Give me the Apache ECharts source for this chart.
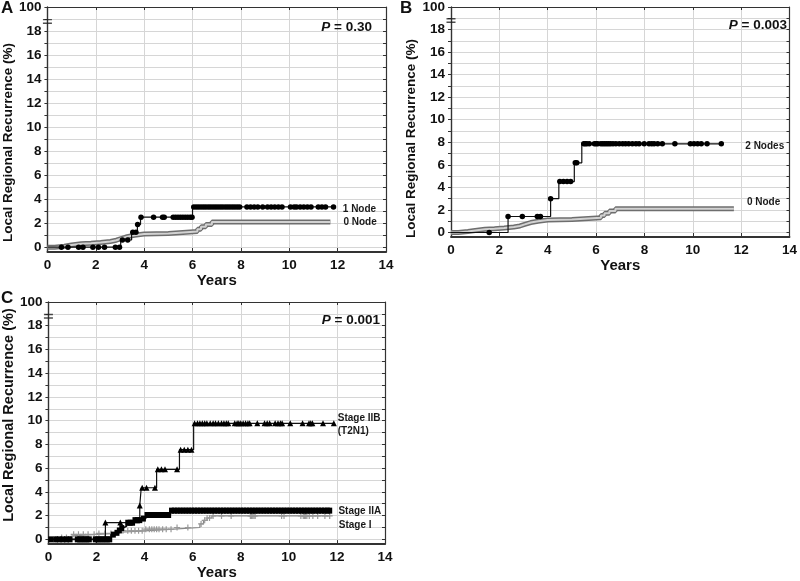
<!DOCTYPE html>
<html>
<head>
<meta charset="utf-8">
<script src="https://cdn.jsdelivr.net/npm/echarts@6/dist/echarts.min.js"></script>
<style>html,body{margin:0;padding:0;background:#fff}#c{width:800px;height:581px}</style>
</head>
<body>
<div id="c"></div>
<script>
// ---------- data ----------
const yTickValues = [0, 2, 4, 6, 8, 10, 12, 14, 16, 18, 20];
const yTickText = ['0', '2', '4', '6', '8', '10', '12', '14', '16', '18', '100'];
const yMinorValues = [0,1,2,3,4,5,6,7,8,9,10,11,12,13,14,15,16,17,18,19,20];
const pValues = ['0.30', '0.003', '0.001'];
const panelLetters = ['A', 'B', 'C'];

// Panel A
const aNode1Steps = [[0,0],[3.03,0.6],[3.48,1.25],[3.72,1.9],[3.85,2.5],[6.0,3.35],[11.8,3.35]];
const aNode1Censor = [0.58,0.85,1.29,1.47,1.88,2.11,2.36,2.81,2.98,3.1,3.32,3.53,3.66,3.73,3.87,4.39,4.76,4.83,5.2,5.3,5.4,5.5,5.6,5.7,5.8,5.9,5.98,
  6.05,6.15,6.25,6.35,6.45,6.55,6.65,6.75,6.85,6.95,7.05,7.15,7.25,7.35,7.45,7.55,7.65,7.75,7.85,7.95,8.25,8.4,8.55,8.7,8.9,9.1,9.25,9.4,9.55,9.7,10.05,10.2,10.3,10.45,10.6,10.75,10.9,11.2,11.35,11.5,11.83];
const node0Steps = [[0,0],[0.3,0.08],[0.7,0.18],[1.0,0.28],[1.4,0.33],[1.8,0.4],[2.2,0.48],[2.6,0.58],[2.85,0.72],[3.05,0.88],[3.3,1.0],[3.6,1.1],[4.0,1.15],[5.0,1.3],[6.2,1.5],[6.35,1.7],[6.55,1.9],[6.8,2.1],[11.7,2.1]];

// Panel B
const bNode2Steps = [[0,0],[2.36,1.42],[4.12,3.0],[4.46,4.52],[5.1,6.18],[5.41,7.86],[11.18,7.86]];
const bNode2Censor = [1.58,2.36,2.95,3.57,3.7,4.12,4.5,4.65,4.8,4.95,5.14,5.2,5.49,5.55,5.62,5.72,5.93,6.0,6.07,6.2,6.28,6.36,6.44,6.52,6.6,6.7,6.82,6.96,7.1,7.22,7.35,7.5,7.65,7.78,7.99,8.19,8.3,8.4,8.55,8.74,9.26,9.9,10.05,10.2,10.35,10.59,11.18];

// Panel C
const cIIBSteps = [[0,0],[2.37,1.41],[3.8,2.85],[3.86,4.35],[4.5,5.9],[5.45,7.56],[6.04,9.78],[11.87,9.78]];
const cIIBCensor = [2.37,2.99,3.8,3.9,4.08,4.43,4.55,4.7,4.85,5.35,5.5,5.65,5.8,5.95,6.08,6.2,6.3,6.4,6.5,6.59,6.73,6.85,6.95,7.07,7.2,7.3,7.4,7.48,7.75,7.85,7.92,8.0,8.1,8.2,8.3,8.37,8.69,8.99,9.1,9.2,9.43,9.55,9.65,9.72,10.06,10.57,10.84,10.91,10.98,11.42,11.87];
const cIIASteps = [[0,0],[2.6,0.4],[2.75,0.55],[2.9,0.75],[3.0,0.95],[3.1,1.1],[3.25,1.4],[3.55,1.62],[3.85,1.75],[4.05,2.05],[5.07,2.42],[11.73,2.42]];
const cIIACensor = [0.1,0.3,0.45,0.6,0.75,0.9,1.2,1.3,1.4,1.5,1.6,1.7,1.95,2.05,2.15,2.25,2.35,2.45,2.55,2.7,2.85,2.95,3.05,3.3,3.4,3.5,3.6,3.7,3.8,3.95,4.1,4.2,4.3,4.4,4.5,4.6,4.7,4.8,4.9,5.0,
  5.12,5.24,5.36,5.48,5.6,5.72,5.84,5.96,6.08,6.2,6.32,6.44,6.56,6.68,6.8,6.92,7.04,7.16,7.28,7.4,7.52,7.64,7.76,7.88,8.0,8.12,8.24,8.36,8.48,8.6,8.72,8.84,8.96,9.08,9.2,9.32,9.44,9.56,9.68,9.8,9.92,10.04,10.16,10.28,10.4,10.52,10.64,10.76,10.88,11.0,11.12,11.24,11.36,11.48,11.6,11.7];
const cISteps = [[0,0],[0.5,0.15],[0.8,0.3],[1.0,0.42],[2.0,0.5],[2.9,0.6],[3.0,0.72],[4.0,0.86],[5.2,1.0],[6.3,1.3],[6.45,1.6],[6.6,1.8],[6.8,1.97],[11.7,1.97]];
const cICensor = [0.3,0.55,0.75,1.05,1.25,1.45,1.65,1.9,2.1,2.35,2.6,3.1,3.3,3.45,3.6,3.75,3.9,4.05,4.2,4.3,4.4,4.5,4.6,4.75,4.9,5.1,5.35,5.8,6.35,6.5,6.6,6.7,6.85,7.2,7.6,8.4,8.45,8.5,8.55,8.6,9.7,9.8,10.5,10.6,10.65,10.7,10.75,10.85,11.0,11.2,11.5,11.7];

const breakMark = [[0, 18.8]];

// ---------- helpers ----------
function levelAt(steps, t) {
  let y = steps[0][1];
  for (const s of steps) { if (s[0] <= t + 1e-9) y = s[1]; }
  return y;
}
function censor(steps, times) { return times.map(t => [t, levelAt(steps, t)]); }

const FONT = "'Liberation Sans', Arial, sans-serif";
const AX = '#333';
const grids = [
  { left: 46, top: 6, width: 340, height: 246 },
  { left: 451, top: 6, width: 340, height: 231 },
  { left: 45, top: 302, width: 340, height: 246 }
];
const yNamePad = [[0, 26, 0, 0], [0, 33, 0, 0], [0, 0, 0, 16]];
const yNameGap = [28, 31, 27];
const xNameGap = [18, 17, 19];
const yNameSize = [13.5, 13.5, 14.5];

const xAxes = [], yAxes = [], series = [], titles = [];
grids.forEach((g, p) => {
  xAxes.push({
    gridIndex: p, type: 'value', min: 0, max: 14, interval: 2, position: 'bottom',
    name: 'Years', nameLocation: 'middle', nameGap: xNameGap[p],
    nameTextStyle: { fontFamily: FONT, fontSize: 15, fontWeight: 'bold', color: '#111' },
    axisLine: { show: true, onZero: false, lineStyle: { color: AX, width: 1.8 } },
    axisTick: { show: true, inside: true, length: 4, lineStyle: { color: AX } },
    axisLabel: { fontFamily: FONT, fontSize: 13.5, fontWeight: 'bold', color: '#111', margin: 6 },
    splitLine: { show: true, lineStyle: { color: '#d6d6d6', width: 1 } }
  });
  xAxes.push({
    gridIndex: p, type: 'value', min: 0, max: 14, interval: 2, position: 'top',
    axisLine: { show: true, onZero: false, lineStyle: { color: AX, width: 1 } },
    axisTick: { show: true, inside: true, length: 3, lineStyle: { color: AX } },
    axisLabel: { show: false }, splitLine: { show: false }
  });
  yAxes.push({
    gridIndex: p, type: 'value', min: -0.4, max: 20, position: 'left',
    name: 'Local Regional Recurrence (%)', nameLocation: 'middle', nameGap: yNameGap[p], nameRotate: 90,
    nameTextStyle: { fontFamily: FONT, fontSize: yNameSize[p], fontWeight: 'bold', color: '#111', padding: yNamePad[p] },
    axisLine: { show: true, onZero: false, lineStyle: { color: AX, width: 1.4 } },
    axisTick: { show: true, customValues: yMinorValues, length: 3, lineStyle: { color: AX } },
    axisLabel: { customValues: yTickValues, formatter: v => yTickText[yTickValues.indexOf(v)],
      fontFamily: FONT, fontSize: 13.5, fontWeight: 'bold', color: '#111', margin: 6 },
    splitLine: { show: true, lineStyle: { color: '#d6d6d6', width: 1 } }
  });
  yAxes.push({
    gridIndex: p, type: 'value', min: -0.4, max: 20, position: 'right',
    axisLine: { show: true, onZero: false, lineStyle: { color: AX, width: 1.2 } },
    axisTick: { show: true, inside: true, customValues: yMinorValues, length: 3, lineStyle: { color: AX } },
    axisLabel: { show: false }, splitLine: { show: false }
  });
  titles.push({
    text: panelLetters[p], left: p === 1 ? 400 : 1, top: p === 2 ? 290 : 0, padding: 0,
    textStyle: { fontFamily: FONT, fontSize: 17, fontWeight: 'bold', color: '#111' }
  });
  series.push({
    type: 'scatter', xAxisIndex: 2 * p, yAxisIndex: 2 * p, data: breakMark, clip: false, z: 10,
    symbol: 'path://M0,0H10V1.6H0ZM0,4H10V5.6H0Z', symbolSize: [9, 5], itemStyle: { color: '#222' }, silent: true
  });
});
const pRich = { i: { fontFamily: FONT, fontSize: 13.5, fontWeight: 'bold', fontStyle: 'italic', color: '#111' } };
const pStyle = { fontFamily: FONT, fontSize: 13.5, fontWeight: 'bold', color: '#111', rich: pRich };
titles.push(
  { text: '{i|P} = ' + pValues[0], right: 428, top: 20, padding: 0, textStyle: pStyle },
  { text: '{i|P} = ' + pValues[1], right: 13, top: 18, padding: 0, textStyle: pStyle },
  { text: '{i|P} = ' + pValues[2], right: 420, top: 313, padding: 0, textStyle: pStyle }
);

const lblStyle = { fontFamily: FONT, fontSize: 10, fontWeight: 'bold', color: '#1a1a1a' };
function endLbl(text, distance, offset, lh) {
  return Object.assign({ show: true, formatter: text, distance: distance, offset: offset, align: 'left', verticalAlign: 'middle', lineHeight: lh || 12 }, lblStyle);
}
function blackLine(p, steps, label, width) {
  return { type: 'line', xAxisIndex: 2 * p, yAxisIndex: 2 * p, step: 'end', data: steps, symbol: 'none',
    lineStyle: { color: '#111', width: width || 1.2 }, endLabel: label, z: 4, silent: true };
}
function grayBand(p, steps, label) {
  return [
    { type: 'line', xAxisIndex: 2 * p, yAxisIndex: 2 * p, step: 'end', data: steps, symbol: 'none',
      lineStyle: { color: '#6e6e6e', width: 5 }, endLabel: label, z: 2, silent: true },
    { type: 'line', xAxisIndex: 2 * p, yAxisIndex: 2 * p, step: 'end', data: steps, symbol: 'none',
      lineStyle: { color: '#d2d2d2', width: 2 }, z: 3, silent: true }
  ];
}
function marks(p, steps, times, symbol, size, color, z) {
  return { type: 'scatter', xAxisIndex: 2 * p, yAxisIndex: 2 * p, data: censor(steps, times), symbol: symbol,
    symbolSize: size, itemStyle: { color: color, borderWidth: 0, opacity: 1 }, clip: false, z: z || 5, silent: true };
}
const PLUS = 'path://M4,0H6V4H10V6H6V10H4V6H0V4H4Z';

// Panel A
series.push(...grayBand(0, node0Steps, endLbl('0 Node', 13, [0, 0])));
series.push(blackLine(0, aNode1Steps, endLbl('1 Node', 10, [0, 2])));
series.push(marks(0, aNode1Steps, aNode1Censor, 'circle', 5.5, '#000'));
// Panel B
series.push(...grayBand(1, node0Steps, endLbl('0 Node', 13, [0, -7])));
series.push(blackLine(1, bNode2Steps, endLbl('2 Nodes', 24, [0, 2])));
series.push(marks(1, bNode2Steps, bNode2Censor, 'circle', 5.5, '#000'));
// Panel C
series.push({ type: 'line', xAxisIndex: 4, yAxisIndex: 4, step: 'end', data: cISteps, symbol: 'none',
  lineStyle: { color: '#888', width: 1.2 }, endLabel: endLbl('Stage I', 9, [0, 9]), z: 2, silent: true });
series.push(marks(2, cISteps, cICensor, PLUS, 6, '#999', 3));
series.push(blackLine(2, cIIASteps, endLbl('Stage IIA', 8, [0, 1]), 1.6));
series.push(marks(2, cIIASteps, cIIACensor, 'rect', [5, 6], '#000', 5));
series.push(blackLine(2, cIIBSteps, endLbl('Stage IIB\n(T2N1)', 4, [0, 1], 13), 1.2));
series.push(marks(2, cIIBSteps, cIIBCensor, 'triangle', 6, '#000', 6));

const chart = echarts.init(document.getElementById('c'), null, { renderer: 'canvas' });
chart.setOption({
  animation: false,
  backgroundColor: '#fff',
  title: titles,
  grid: grids.map(g => Object.assign({ show: false, containLabel: false }, g)),
  xAxis: xAxes,
  yAxis: yAxes,
  series: series
});
</script>
</body>
</html>
